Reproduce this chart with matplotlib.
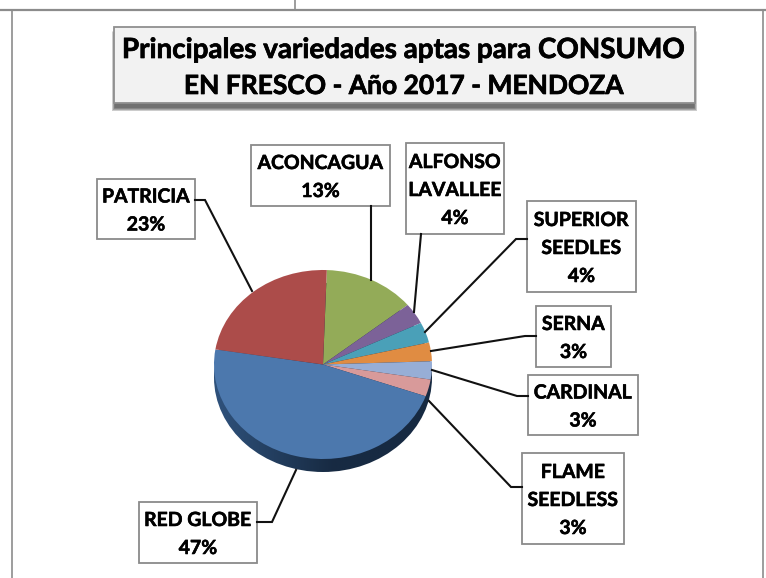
import matplotlib
matplotlib.use('Agg')
import matplotlib.pyplot as plt
import matplotlib.patheffects as pe
import numpy as np
from matplotlib.patches import Rectangle, Ellipse

# Data (clockwise from the top of the pie)
varieties = ['ACONCAGUA', 'ALFONSO\nLAVALLEE', 'SUPERIOR\nSEEDLES', 'SERNA', 'CARDINAL',
             'FLAME\nSEEDLESS', 'RED GLOBE', 'PATRICIA']
shares = [13.6, 3.6, 3.5, 3.2, 3.1, 2.9, 47.1, 23.0]
percent_labels = ['13%', '4%', '4%', '3%', '3%', '3%', '47%', '23%']
colors = ['#93ab58', '#7c6298', '#4aa0b8', '#e08c42', '#97aed6', '#d89a9a', '#4c78ad', '#ac4c4a']

title_lines = ['Principales variedades aptas para CONSUMO', 'EN FRESCO - Año 2017 - MENDOZA']

# Label box layout in pixels: x0, y0, x1, y1
boxes = [(251, 145, 390, 206), (406, 143, 504, 234), (527, 201, 636, 292), (536, 306, 611, 367),
         (528, 375, 638, 435), (522, 453, 624, 544), (139, 502, 257, 563), (97, 179, 195, 239)]
leaders = [[(371, 206), (371, 280)],
           [(421, 234), (414, 312)],
           [(527, 239), (516, 239), (425, 332)],
           [(536, 336), (525, 336), (431, 351)],
           [(528, 396), (517, 396), (432, 370)],
           [(522, 487), (511, 487), (429, 401)],
           [(257, 522), (272, 522), (296, 470)],
           [(195, 200), (205, 200), (252, 291)]]

W, H = 766, 578
fig = plt.figure(figsize=(W / 100, H / 100), dpi=100)

# Pie, squashed to an ellipse by the shape of its axes
cx, cy, rx, ry, depth = 323, 364.5, 109, 94.5, 13
pie_ax = fig.add_axes([(cx - rx) / W, 1 - (cy + ry + depth) / H, 2 * rx / W, (2 * ry + depth) / H])

# Side of the pie: dark gradient, lighter on the left
grad = np.interp(np.linspace(0, 1, 256), [0, 0.3, 0.55, 1], [0.0, 0.55, 1.0, 1.0])
c0, c1 = np.array([0x2f, 0x52, 0x7c]) / 255, np.array([0x17, 0x2a, 0x42]) / 255
img = (c0[None, :] * (1 - grad[:, None]) + c1[None, :] * grad[:, None])[None, :, :]
d = depth / ry
im = pie_ax.imshow(img, extent=(-1, 1, -1 - d, 1), aspect='auto', zorder=1)
side = Ellipse((0, -d), 2, 2, transform=pie_ax.transData, facecolor='none', edgecolor='none')
pie_ax.add_patch(side)
im.set_clip_path(side)

pie_ax.pie(shares, colors=colors, startangle=88, counterclock=False, radius=1,
           wedgeprops={'linewidth': 0, 'zorder': 2})
pie_ax.set_aspect('auto')
pie_ax.set_xlim(-1, 1)
pie_ax.set_ylim(-1 - d, 1)
pie_ax.axis('off')

# Overlay in pixel coordinates for frame, title and labels
ax = fig.add_axes([0, 0, 1, 1], zorder=5)
ax.set_xlim(0, W)
ax.set_ylim(H, 0)
ax.axis('off')
ax.patch.set_alpha(0)

line_gray = '#8c8c8c'
ax.plot([0, W], [10, 10], color=line_gray, lw=1.6)
ax.plot([295, 295], [0, 10], color=line_gray, lw=1.2)
ax.plot([12, 12], [10, H], color=line_gray, lw=1.2)
ax.plot([763, 763], [10, H], color=line_gray, lw=1.2)

# Title box with a soft shadow
for i in range(8):
    ax.add_patch(Rectangle((112 + i * 0.4, 31 + i * 0.5), 585 - i * 0.8, 80 - i,
                           facecolor='#303030', edgecolor='none', alpha=0.13))
ax.add_patch(Rectangle((114, 27), 581, 76, facecolor='#f2f2f2', edgecolor='#8f8f8f', lw=1.3))
bold = [pe.withStroke(linewidth=0.5, foreground='black')]
for text, y, size in zip(title_lines, [50, 86], [20, 19]):
    ax.text(403.5, y, text, ha='center', va='center', family='Lato', weight='bold',
            fontsize=size, color='black', path_effects=bold)

# Leader lines and label boxes
for pts in leaders:
    xs, ys = zip(*pts)
    ax.plot(xs, ys, color='#111111', lw=1.5, solid_joinstyle='miter')

for name, pct, (x0, y0, x1, y1) in zip(varieties, percent_labels, boxes):
    ax.add_patch(Rectangle((x0, y0), x1 - x0, y1 - y0, facecolor='white', edgecolor='#8a8a8a', lw=1.3))
    lines = name.split('\n') + [pct]
    n = len(lines)
    mid = (y0 + y1) / 2 + 2
    for i, line in enumerate(lines):
        ax.text((x0 + x1) / 2, mid + (i - (n - 1) / 2) * 28, line, ha='center', va='center',
                family='Lato', weight='bold', fontsize=14, color='black',
                path_effects=[pe.withStroke(linewidth=0.4, foreground='black')])

fig.savefig('out.png', dpi=100)
